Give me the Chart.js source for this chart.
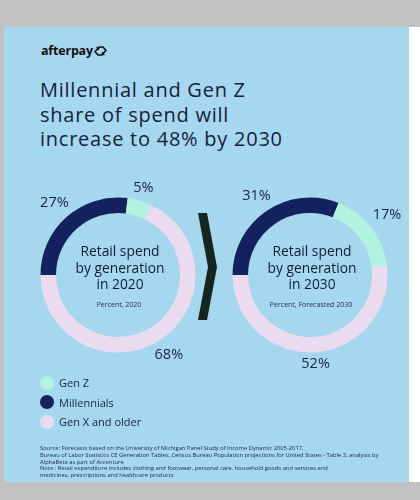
<!DOCTYPE html>
<html>
<head>
<meta charset="utf-8">
<script src="https://cdn.jsdelivr.net/npm/chart.js@4.4.1/dist/chart.umd.min.js"></script>
<style>
  html,body{margin:0;padding:0;}
  body{width:420px;height:500px;background:#c2c2c2;position:relative;overflow:hidden;font-family:"Open Sans",sans-serif;color:#15203a;}
  #panel{position:absolute;left:4px;top:27px;width:405px;height:455px;background:#a5d8ef;}
  #white{position:absolute;left:409px;top:27px;width:11px;height:455px;background:#ffffff;}
  #logo{position:absolute;left:41px;top:42px;font-weight:700;font-size:12.5px;letter-spacing:-0.2px;color:#111;display:flex;align-items:center;}
  #title{position:absolute;left:40px;top:78px;font-size:20px;line-height:24.5px;letter-spacing:0.75px;color:#17213a;white-space:nowrap;}
  canvas{position:absolute;}
  #legend{position:absolute;left:40px;top:373px;}
  .li{display:flex;align-items:center;height:19.5px;font-size:11px;color:#17213a;}
  .dot{width:14px;height:14px;border-radius:50%;margin-right:5px;}
  #foot{position:absolute;left:40px;top:445px;font-size:5.8px;line-height:6.8px;color:#1d2640;white-space:nowrap;}
  #chev{position:absolute;left:0;top:0;}
</style>
</head>
<body>
<div id="panel"></div>
<div id="white"></div>
<div id="logo">afterpay<svg width="15" height="12" viewBox="0 0 15 12"><path d="M6 2 L10 2 L13 5.5 L9 9.5 M10 7 L9 9.5 L11.5 9.5 M9 10 L5 10 L2 6.5 L6 2.5 M5 5 L6 2.5 L3.5 2.5" fill="none" stroke="#111" stroke-width="1.6" stroke-linejoin="round"/></svg></div>
<div id="title"></div>
<canvas id="c2020" width="260" height="260"></canvas>
<canvas id="c2030" width="260" height="260"></canvas>
<svg id="chev" width="420" height="500"><polygon points="198,213 207,213 217,267 207,320 198,320 208,267" fill="#16251e"/></svg>
<div id="legend"></div>
<div id="foot"></div>
<script>
// ---- data ----
const titleLines = ["Millennial and Gen Z", "share of spend will", "increase to 48% by 2030"];
const categories = ["Gen Z", "Millennials", "Gen X and older"];
const colors = ["#b2f3df", "#13225c", "#eadbee"];
const values2020 = [5, 27, 68];
const values2030 = [17, 31, 52];
const drawOrder = [1, 0, 2]; // Millennials, Gen Z, Gen X clockwise from 9 o'clock
const center2020 = ["Retail spend", "by generation", "in 2020"];
const center2030 = ["Retail spend", "by generation", "in 2030"];
const sub2020 = "Percent, 2020";
const sub2030 = "Percent, Forecasted 2030";
const footLines = [
  "Source: Forecasts based on the University of Michigan Panel Study of Income Dynamic 2005-2017,",
  "Bureau of Labor Statistics CE Generation Tables, Census Bureau Population projections for United States - Table 3, analysis by",
  "AlphaBeta as part of Accenture",
  "Note : Retail expenditure includes clothing and footwear, personal care, household goods and services and",
  "medicines, prescriptions and healthcare products"
];

document.getElementById('title').innerHTML = titleLines.join('<br>');
document.getElementById('foot').innerHTML = footLines.join('<br>');
const lg = document.getElementById('legend');
categories.forEach((c, i) => {
  const d = document.createElement('div'); d.className = 'li';
  d.innerHTML = '<span class="dot" style="background:' + colors[i] + '"></span><span>' + c + '</span>';
  lg.appendChild(d);
});

const labelPlugin = {
  id: 'pctLabels',
  afterDatasetsDraw(chart, args, opts) {
    const ctx = chart.ctx;
    const meta = chart.getDatasetMeta(0);
    const ds = chart.data.datasets[0];
    ctx.save();
    ctx.fillStyle = '#1a2340';
    ctx.font = '400 14.5px "Open Sans"';
    ctx.textAlign = 'center';
    ctx.textBaseline = 'middle';
    let cx = 0, cy = 0;
    meta.data.forEach((arc, i) => {
      const p = arc.getProps(['startAngle', 'endAngle', 'outerRadius', 'x', 'y'], true);
      cx = p.x; cy = p.y;
      const mid = (p.startAngle + p.endAngle) / 2;
      const txt = ds.data[i] + '%';
      const w = ctx.measureText(txt).width;
      const r = p.outerRadius + 5.5 + Math.abs(Math.cos(mid)) * w / 2 + Math.abs(Math.sin(mid)) * 5;
      ctx.fillText(txt, p.x + Math.cos(mid) * r, p.y + Math.sin(mid) * r);
    });
    ctx.fillStyle = '#111c36';
    ctx.font = '500 13.8px "Open Sans"';
    const offs = [-22.5, -5.5, 10.5];
    opts.lines.forEach((l, i) => ctx.fillText(l, cx + 2, cy + offs[i]));
    ctx.font = '400 7px "Open Sans"';
    ctx.fillStyle = '#26314d';
    ctx.fillText(opts.sub, cx + 1, cy + 29.5);
    ctx.restore();
  }
};

function makeChart(id, values, lines, sub, cx, cy) {
  const el = document.getElementById(id);
  el.style.left = (cx - 130) + 'px';
  el.style.top = (cy - 130) + 'px';
  new Chart(el, {
    type: 'doughnut',
    data: {
      labels: drawOrder.map(i => categories[i]),
      datasets: [{
        data: drawOrder.map(i => values[i]),
        backgroundColor: drawOrder.map(i => colors[i]),
        borderWidth: 0
      }]
    },
    options: {
      responsive: false,
      animation: false,
      rotation: -90,
      cutout: '80%',
      layout: { padding: 52.5 },
      plugins: {
        legend: { display: false },
        tooltip: { enabled: false },
        pctLabels: { lines: lines, sub: sub }
      }
    },
    plugins: [labelPlugin]
  });
}
makeChart('c2020', values2020, center2020, sub2020, 117.5, 274.5);
makeChart('c2030', values2030, center2030, sub2030, 310, 274.5);
</script>
</body>
</html>
